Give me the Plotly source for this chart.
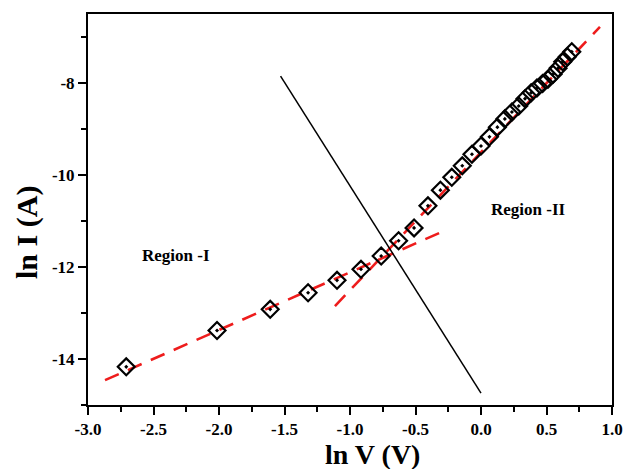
import plotly.graph_objects as go

# Measured data (ln V, ln I)
ln_v = [-2.708, -2.015, -1.609, -1.320, -1.099, -0.916, -0.762, -0.629, -0.511,
        -0.405, -0.310, -0.223, -0.143, -0.069, 0.000, 0.0645, 0.125, 0.182,
        0.236, 0.288, 0.336, 0.383, 0.427, 0.470, 0.511, 0.550, 0.588, 0.624,
        0.659, 0.693]
ln_i = [-14.17, -13.38, -12.92, -12.56, -12.29, -12.05, -11.76, -11.43, -11.15,
        -10.67, -10.33, -10.05, -9.80, -9.55, -9.37, -9.17, -8.96, -8.78,
        -8.63, -8.50, -8.34, -8.21, -8.11, -8.01, -7.92, -7.81, -7.68, -7.54,
        -7.43, -7.32]

# Linear fits (endpoints)
fit1_x = [-2.87, -0.31]
fit1_y = [-14.46, -11.25]
fit2_x = [-1.115, 0.908]
fit2_y = [-12.85, -6.78]

# Region divider line
div_x = [-1.53, 0.0]
div_y = [-7.85, -14.74]

# Tick labels
x_tickvals = [-3.0, -2.5, -2.0, -1.5, -1.0, -0.5, 0.0, 0.5, 1.0]
x_ticktext = ["-3.0", "-2.5", "-2.0", "-1.5", "-1.0", "-0.5", "0.0", "0.5", "1.0"]
y_tickvals = [-14, -12, -10, -8]
y_ticktext = ["-14", "-12", "-10", "-8"]

FONT = "Liberation Serif, Times New Roman, serif"

fig = go.Figure()
fig.add_trace(go.Scatter(x=fit1_x, y=fit1_y, mode="lines",
                         line=dict(color="#ee1c1c", width=2.6, dash="15px,10px"),
                         showlegend=False))
fig.add_trace(go.Scatter(x=fit2_x, y=fit2_y, mode="lines",
                         line=dict(color="#ee1c1c", width=2.6, dash="15px,10px"),
                         showlegend=False))
fig.add_trace(go.Scatter(x=div_x, y=div_y, mode="lines",
                         line=dict(color="black", width=1.5),
                         showlegend=False))
fig.add_trace(go.Scatter(x=ln_v, y=ln_i, mode="markers",
                         marker=dict(symbol="diamond-open-dot", size=13,
                                     color="black", line=dict(color="black", width=2.2)),
                         showlegend=False))

fig.add_annotation(x=-2.332, y=-11.76, text="<b>Region -I</b>", showarrow=False,
                   font=dict(family=FONT, size=17, color="black"))
fig.add_annotation(x=0.366, y=-10.76, text="<b>Region -II</b>", showarrow=False,
                   font=dict(family=FONT, size=17, color="black"))

fig.add_annotation(xref="paper", yref="paper", x=0.542, y=-0.127,
                   text="<b>ln V (V)</b>", showarrow=False,
                   xanchor="center", yanchor="middle",
                   font=dict(family=FONT, size=28, color="black"))
fig.add_annotation(xref="paper", yref="paper", x=-0.1164, y=0.44,
                   text="<b>ln I (A)</b>", showarrow=False, textangle=-90,
                   xanchor="center", yanchor="middle",
                   font=dict(family=FONT, size=30, color="black"))

axis_common = dict(showline=True, linecolor="black", linewidth=2, mirror=True,
                   ticks="outside", tickwidth=2, ticklen=8, tickcolor="black",
                   showgrid=False, zeroline=False, automargin=False,
                   tickfont=dict(family=FONT, size=17, color="black"))

fig.update_xaxes(range=[-3.0, 1.0], tickmode="array", tickvals=x_tickvals,
                 ticktext=["<b>%s</b>" % t for t in x_ticktext],
                 minor=dict(dtick=0.25, ticks="outside", ticklen=5, tickwidth=2,
                            tickcolor="black", tick0=-3.0),
                 **axis_common)
fig.update_yaxes(range=[-15.0, -6.5], tickmode="array", tickvals=y_tickvals,
                 ticktext=["<b>%s</b>" % t for t in y_ticktext],
                 minor=dict(dtick=1, ticks="outside", ticklen=5, tickwidth=2,
                            tickcolor="black", tick0=-15),
                 **axis_common)

fig.update_layout(width=625, height=469,
                  margin=dict(l=88, r=13, t=14, b=64),
                  paper_bgcolor="white", plot_bgcolor="white")

fig.write_html("out.html", config={"displayModeBar": False},
               post_script="document.body.style.margin='0';document.body.style.padding='0';")
